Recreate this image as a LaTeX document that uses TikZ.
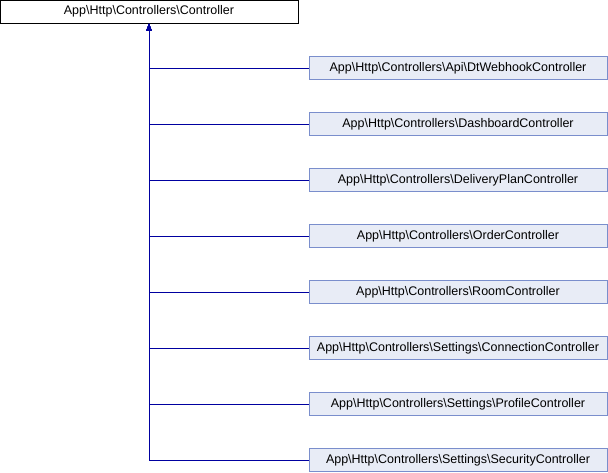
\documentclass[tikz,border=0pt]{standalone}
\usepackage{fontspec}
\setmainfont{Liberation Sans}
\usetikzlibrary{arrows.meta,positioning}
\definecolor{edgeblue}{RGB}{0,0,160}
\definecolor{boxfill}{RGB}{232,236,246}
\definecolor{boxline}{RGB}{122,142,204}
\newcommand{\nsep}{\textbackslash}
\newcommand{\ctrlns}{App\nsep Http\nsep Controllers\nsep}
\tikzset{
  baseclass/.style={draw=black,fill=white,line width=1pt,minimum width=298pt,minimum height=23pt,inner sep=0pt,font=\fontsize{12.5}{14}\selectfont},
  derived/.style={baseclass,draw=boxline,fill=boxfill},
  inherit/.style={edgeblue,line width=1pt,-{Triangle[length=7pt,width=5pt]}}
}

\begin{document}
\begin{tikzpicture}[x=1pt,y=-1pt]
    \useasboundingbox (0,0) rectangle (608,472);
    \node[baseclass] (ctrl) at (149,11.5) {\ctrlns Controller};
    \foreach \name/\cls [count=\i from 0] in {
        webhook/Api\nsep DtWebhookController,
        dashboard/DashboardController,
        delivery/DeliveryPlanController,
        order/OrderController,
        room/RoomController,
        connection/Settings\nsep ConnectionController,
        profile/Settings\nsep ProfileController,
        security/Settings\nsep SecurityController}
    {
        \node[derived] (\name) at (458,68+56*\i) {\ctrlns\cls};
        \draw[inherit] (\name.west) -| (ctrl.south);
    }
\end{tikzpicture}
\end{document}
